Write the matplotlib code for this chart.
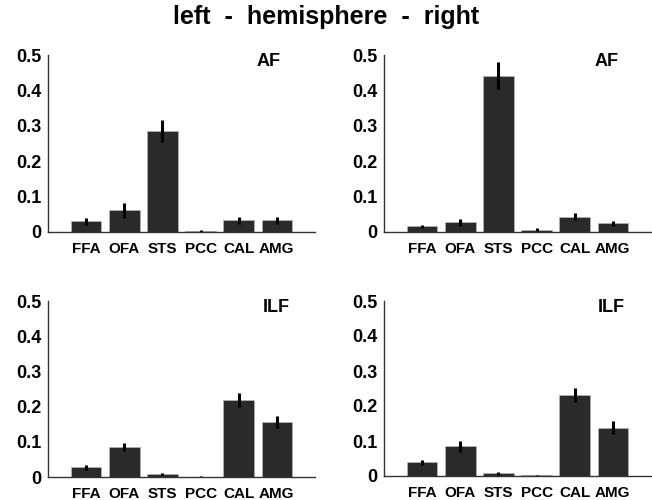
import matplotlib
matplotlib.use("Agg")
import matplotlib.pyplot as plt
import numpy as np

regions = ["FFA", "OFA", "STS", "PCC", "CAL", "AMG"]
yticks = [0, 0.1, 0.2, 0.3, 0.4, 0.5]
ytick_labels = ["0", "0.1", "0.2", "0.3", "0.4", "0.5"]

af_left = [0.030, 0.061, 0.285, 0.003, 0.033, 0.033]
af_left_err = [0.010, 0.021, 0.030, 0.002, 0.010, 0.010]
af_right = [0.016, 0.028, 0.442, 0.007, 0.043, 0.025]
af_right_err = [0.005, 0.010, 0.037, 0.004, 0.010, 0.007]
ilf_left = [0.027, 0.086, 0.009, 0.001, 0.218, 0.156]
ilf_left_err = [0.006, 0.012, 0.003, 0.002, 0.020, 0.017]
ilf_right = [0.039, 0.085, 0.008, 0.002, 0.232, 0.138]
ilf_right_err = [0.007, 0.015, 0.004, 0.002, 0.020, 0.018]

panels = [
    ("AF", af_left, af_left_err, [48, 55, 315, 232], 5.78),
    ("AF", af_right, af_right_err, [384, 55, 651, 232], 5.84),
    ("ILF", ilf_left, ilf_left_err, [48, 301, 315, 477], 5.99),
    ("ILF", ilf_right, ilf_right_err, [384, 301, 651, 476], 5.95),
]

plt.rcParams['font.family'] = ['Liberation Sans', 'DejaVu Sans']
W, H = 652, 500
fig = plt.figure(figsize=(W / 100, H / 100), dpi=100)

for label, vals, errs, (x0, y0, x1, y1), lx in panels:
    ax = fig.add_axes([x0 / W, 1 - y1 / H, (x1 - x0) / W, (y1 - y0) / H])
    x = np.arange(1, len(regions) + 1)
    ax.bar(x, vals, width=0.8, color="#2a2a2a", edgecolor="#bfbfbf", linewidth=0.4, zorder=2)
    ax.errorbar(x, vals, yerr=errs, fmt="none", ecolor="black", elinewidth=2.2, capsize=0, zorder=3)
    ax.set_xlim(0, 7)
    ax.set_ylim(0, 0.5)
    ax.set_yticks(yticks)
    ax.set_yticklabels(ytick_labels, fontsize=13, fontweight="bold")
    ax.set_xticks(x)
    ax.set_xticklabels(regions, fontsize=11, fontweight="bold")
    ax.tick_params(axis="y", length=0, pad=5)
    ax.tick_params(axis="x", length=0, pad=7)
    for s in ["top", "right"]:
        ax.spines[s].set_visible(False)
    for s in ["left", "bottom"]:
        ax.spines[s].set_linewidth(1.0)
        ax.spines[s].set_color("#333333")
    ax.text(lx, 0.505, label, fontsize=13, fontweight="bold", ha="center", va="top")

fig.text(0.5, 1 - 17 / H, "left  -  hemisphere  -  right", fontsize=18,
         fontweight="bold", ha="center", va="center")

fig.savefig("out.png", dpi=100, facecolor="white")
